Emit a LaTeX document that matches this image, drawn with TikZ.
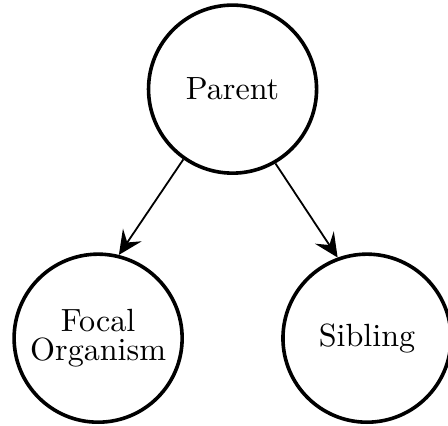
\documentclass[tikz,border=0pt]{standalone}
\usetikzlibrary{positioning, arrows.meta}

\begin{document}
\begin{tikzpicture}[
        organism/.style={draw, very thick, circle, minimum size=56pt, inner sep=0pt, align=center, font=\fontsize{10.7pt}{12pt}\selectfont},
        descent/.style={semithick, -{Stealth[length=8pt, width=7.5pt, inset=3pt]}}
    ]
        \useasboundingbox (-77.5pt, 29.7pt) rectangle (71.8pt, -112pt);

        % Blocks
        \node[organism] (parent) at (0, 0) {Parent};
        \node[organism, on grid, below left=83pt and 44.8pt of parent] (focal) {Focal\\[-2.3pt]Organism};
        \node[organism, on grid, below right=83pt and 44.8pt of parent] (sibling) {Sibling};

        % Arrows
        \draw[descent] (parent.235) -- (focal.76);
        \draw[descent] (parent.300) -- (sibling.110);
    \end{tikzpicture}
\end{document}
